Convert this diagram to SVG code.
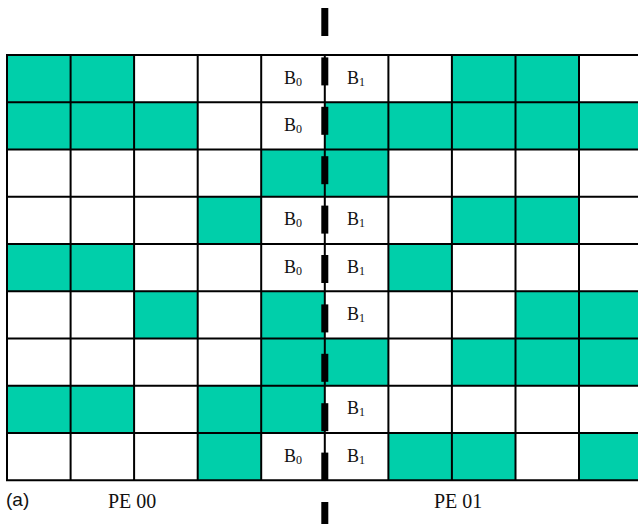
<svg xmlns="http://www.w3.org/2000/svg" width="638" height="524" viewBox="0 0 638 524">
<style>
.g{fill:#00CFAA}
.w{fill:#FFFFFF}
.ln{stroke:#000;stroke-width:2;fill:none}
.dash{fill:#000}
.b{font-family:"Liberation Serif","Times New Roman",serif;font-size:18px;fill:#111}
.sub{font-size:12px}
.lab{font-family:"Liberation Serif","Times New Roman",serif;font-size:20px;fill:#111}
.a{font-family:"Liberation Sans",Arial,sans-serif;font-size:19px;fill:#111}
</style>
<rect x="0" y="0" width="638" height="524" fill="#fff"/>
<g id="cells">
<!-- row 0 -->
<rect class="g" x="7" y="55" width="63.6" height="47.25"/>
<rect class="g" x="70.6" y="55" width="63.5" height="47.25"/>
<rect class="g" x="451.9" y="55" width="63.6" height="47.25"/>
<rect class="g" x="515.5" y="55" width="63.5" height="47.25"/>
<!-- row 1 -->
<rect class="g" x="7" y="102.25" width="63.6" height="47.25"/>
<rect class="g" x="70.6" y="102.25" width="63.5" height="47.25"/>
<rect class="g" x="134.1" y="102.25" width="63.6" height="47.25"/>
<rect class="g" x="324.8" y="102.25" width="317.8" height="47.25"/>
<!-- row 2 -->
<rect class="g" x="261.2" y="149.5" width="127.2" height="47.25"/>
<!-- row 3 -->
<rect class="g" x="197.7" y="196.75" width="63.5" height="47.25"/>
<rect class="g" x="451.9" y="196.75" width="127.1" height="47.25"/>
<!-- row 4 -->
<rect class="g" x="7" y="244" width="127.1" height="47.25"/>
<rect class="g" x="388.4" y="244" width="63.5" height="47.25"/>
<!-- row 5 -->
<rect class="g" x="134.1" y="291.25" width="63.6" height="47.25"/>
<rect class="g" x="261.2" y="291.25" width="63.6" height="47.25"/>
<rect class="g" x="515.5" y="291.25" width="127.1" height="47.25"/>
<!-- row 6 -->
<rect class="g" x="261.2" y="338.5" width="127.2" height="47.25"/>
<rect class="g" x="451.9" y="338.5" width="190.7" height="47.25"/>
<!-- row 7 -->
<rect class="g" x="7" y="385.75" width="127.1" height="47.25"/>
<rect class="g" x="197.7" y="385.75" width="127.1" height="47.25"/>
<!-- row 8 -->
<rect class="g" x="197.7" y="433" width="63.5" height="47.25"/>
<rect class="g" x="388.4" y="433" width="127.1" height="47.25"/>
<rect class="g" x="579" y="433" width="63.6" height="47.25"/>
</g>
<g id="grid">
<path class="ln" d="M7,55V480.25 M70.6,55V480.25 M134.1,55V480.25 M197.7,55V480.25 M261.2,55V480.25 M324.8,55V480.25 M388.4,55V480.25 M451.9,55V480.25 M515.5,55V480.25 M579,55V480.25
M6,55H642 M6,102.25H642 M6,149.5H642 M6,196.75H642 M6,244H642 M6,291.25H642 M6,338.5H642 M6,385.75H642 M6,433H642 M6,480.25H642"/>
</g>
<g id="divider">
<rect class="dash" x="321.3" y="8" width="7" height="28"/>
<rect class="dash" x="321.3" y="57.4" width="7" height="28"/>
<rect class="dash" x="321.3" y="106.8" width="7" height="28"/>
<rect class="dash" x="321.3" y="156.2" width="7" height="28"/>
<rect class="dash" x="321.3" y="205.6" width="7" height="28"/>
<rect class="dash" x="321.3" y="255" width="7" height="28"/>
<rect class="dash" x="321.3" y="304.4" width="7" height="28"/>
<rect class="dash" x="321.3" y="353.8" width="7" height="28"/>
<rect class="dash" x="321.3" y="403.2" width="7" height="28"/>
<rect class="dash" x="321.3" y="452.6" width="7" height="28"/>
<rect class="dash" x="321.3" y="502" width="7" height="28"/>
</g>
<g id="labels">
<text class="b" x="284" y="83.5">B<tspan class="sub" dy="2">0</tspan></text>
<text class="b" x="347" y="83.5">B<tspan class="sub" dy="2">1</tspan></text>
<text class="b" x="284" y="130.75">B<tspan class="sub" dy="2">0</tspan></text>
<text class="b" x="284" y="225.25">B<tspan class="sub" dy="2">0</tspan></text>
<text class="b" x="347" y="225.25">B<tspan class="sub" dy="2">1</tspan></text>
<text class="b" x="284" y="272.5">B<tspan class="sub" dy="2">0</tspan></text>
<text class="b" x="347" y="272.5">B<tspan class="sub" dy="2">1</tspan></text>
<text class="b" x="347" y="319.75">B<tspan class="sub" dy="2">1</tspan></text>
<text class="b" x="347" y="414.25">B<tspan class="sub" dy="2">1</tspan></text>
<text class="b" x="284" y="461.5">B<tspan class="sub" dy="2">0</tspan></text>
<text class="b" x="347" y="461.5">B<tspan class="sub" dy="2">1</tspan></text>
<text class="a" x="6" y="506">(a)</text>
<text class="lab" x="108" y="508">PE 00</text>
<text class="lab" x="434" y="508">PE 01</text>
</g>
</svg>
